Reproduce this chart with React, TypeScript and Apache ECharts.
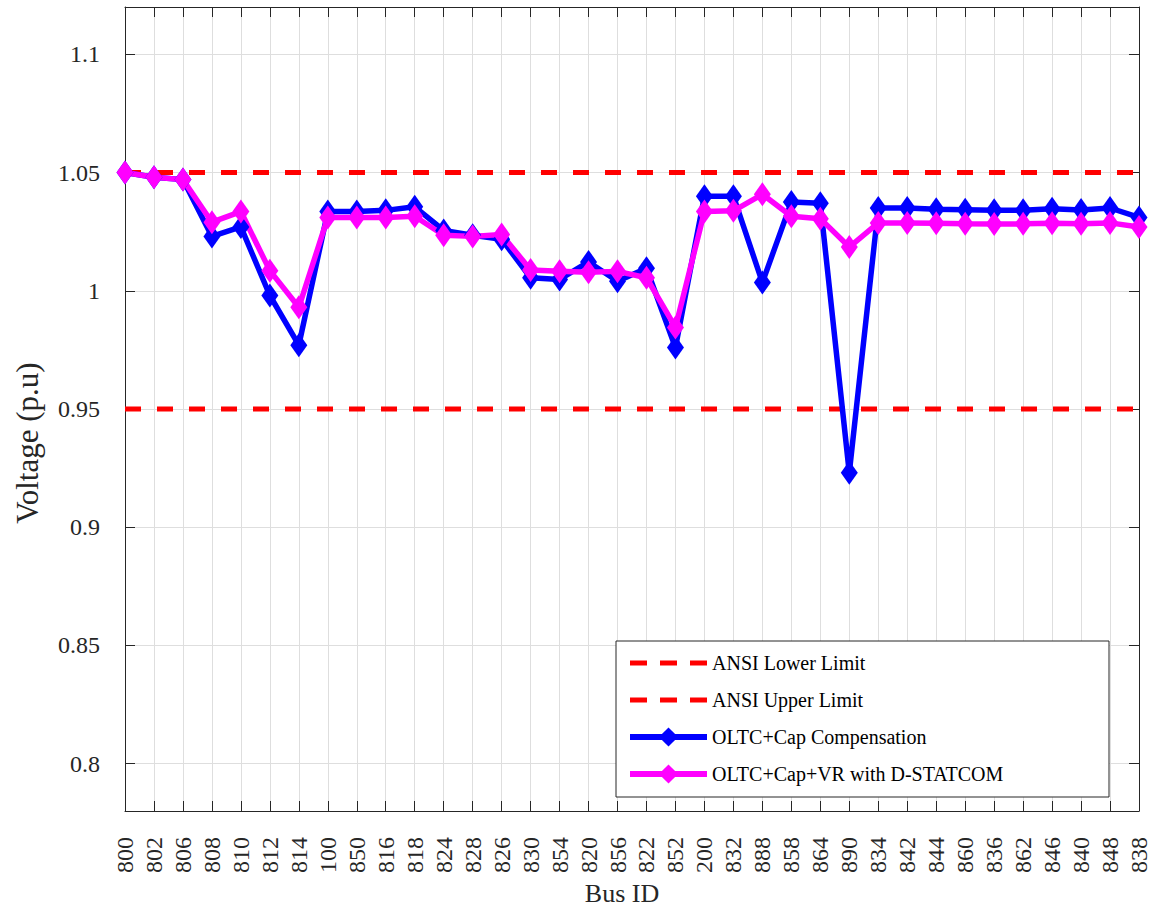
import React, { useEffect, useRef } from "react";
import * as echarts from "echarts";

const busIds = ["800","802","806","808","810","812","814","100","850","816","818","824","828","826","830","854","820","856","822","852","200","832","888","858","864","890","834","842","844","860","836","862","846","840","848","838"];

const oltcCap = [1.050,1.048,1.047,1.023,1.027,0.998,0.977,1.0335,1.0335,1.034,1.0355,1.0255,1.0235,1.0218,1.0055,1.0048,1.0122,1.004,1.0095,0.976,1.040,1.040,1.0035,1.0375,1.037,0.923,1.035,1.035,1.0345,1.0343,1.034,1.034,1.0347,1.0342,1.035,1.031];

const oltcCapVr = [1.050,1.048,1.047,1.029,1.0335,1.0085,0.993,1.031,1.031,1.031,1.0315,1.0235,1.023,1.0238,1.0088,1.0083,1.0078,1.0082,1.0055,0.9845,1.0335,1.0338,1.0408,1.0315,1.0305,1.0185,1.0287,1.0287,1.0285,1.0283,1.0282,1.0283,1.0285,1.0283,1.0287,1.027];

const lowerLimit = [["800", 0.95], ["838", 0.95]];
const upperLimit = [["800", 1.05], ["838", 1.05]];

const yTicks = [0.8, 0.85, 0.9, 0.95, 1.0, 1.05, 1.1];

const FONT = "'Liberation Serif', 'Times New Roman', serif";
const TXT = "#262626";

export default function App() {
  const ref = useRef<HTMLDivElement>(null);
  useEffect(() => {
    const chart = echarts.init(ref.current!, null, { renderer: "svg" });
    const fmt = (v: number) => String(parseFloat(v.toFixed(2)));
    chart.setOption({
      animation: false,
      backgroundColor: "#ffffff",
      textStyle: { fontFamily: FONT },
      grid: { left: 125, right: 1, top: 7, bottom: 97, containLabel: false },
      xAxis: [
        {
          type: "category",
          data: busIds,
          boundaryGap: false,
          position: "bottom",
          axisLine: { show: true, lineStyle: { color: TXT, width: 1 } },
          axisTick: { show: true, inside: true, length: 10, lineStyle: { color: TXT } },
          axisLabel: { rotate: 90, fontSize: 24, fontFamily: FONT, color: TXT, margin: 26, interval: 0 },
          splitLine: { show: true, interval: 0, lineStyle: { color: "#dedede", width: 1 } },
        },
        {
          type: "category",
          data: busIds,
          boundaryGap: false,
          position: "top",
          axisLine: { show: true, lineStyle: { color: TXT, width: 1 } },
          axisTick: { show: true, inside: true, length: 10, interval: 0, lineStyle: { color: TXT } },
          axisLabel: { show: false },
          splitLine: { show: false },
        },
      ],
      yAxis: [
        {
          type: "value",
          min: 0.78,
          max: 1.12,
          position: "left",
          axisLine: { show: true, lineStyle: { color: TXT, width: 1 } },
          axisTick: { show: true, inside: true, length: 10, customValues: yTicks, lineStyle: { color: TXT } },
          axisLabel: { customValues: yTicks, formatter: fmt, fontSize: 24, fontFamily: FONT, color: TXT, margin: 25 },
          splitLine: { show: true, lineStyle: { color: "#dedede", width: 1 } },
        },
        {
          type: "value",
          min: 0.78,
          max: 1.12,
          position: "right",
          axisLine: { show: true, lineStyle: { color: TXT, width: 1 } },
          axisTick: { show: true, inside: true, length: 10, customValues: yTicks, lineStyle: { color: TXT } },
          axisLabel: { show: false },
          splitLine: { show: false },
        },
      ],
      legend: {
        orient: "vertical",
        left: 622,
        top: 646,
        itemWidth: 77,
        itemHeight: 24,
        itemGap: 13,
        z: 10,
        lineStyle: { width: 5 },
        textStyle: { fontSize: 20, fontFamily: FONT, color: "#000", height: 24, lineHeight: 24 },
        data: [
          { name: "ANSI Lower Limit", itemStyle: { opacity: 0 }, lineStyle: { width: 5, type: [17, 13] } },
          { name: "ANSI Upper Limit", itemStyle: { opacity: 0 }, lineStyle: { width: 5, type: [17, 13] } },
          { name: "OLTC+Cap Compensation", lineStyle: { width: 6 } },
          { name: "OLTC+Cap+VR with D-STATCOM", lineStyle: { width: 6 } },
        ],
      },
      graphic: [
        {
          type: "rect",
          z: 3,
          shape: { x: 616, y: 641, width: 493, height: 156 },
          style: { fill: "#ffffff", stroke: TXT, lineWidth: 1 },
        },
        {
          type: "text",
          x: 27,
          y: 443,
          rotation: Math.PI / 2,
          style: { text: "Voltage (p.u)", font: `31px ${FONT}`, fill: TXT, align: "center", verticalAlign: "middle" },
        },
        {
          type: "text",
          x: 622,
          y: 893,
          style: { text: "Bus ID", font: `26px ${FONT}`, fill: TXT, align: "center", verticalAlign: "middle" },
        },
      ],
      series: [
        {
          name: "ANSI Lower Limit",
          type: "line",
          data: lowerLimit,
          symbol: "none",
          lineStyle: { color: "#ff0000", width: 5, type: [16, 16] },
          itemStyle: { color: "#ff0000" },
          z: 1,
        },
        {
          name: "ANSI Upper Limit",
          type: "line",
          data: upperLimit,
          symbol: "none",
          lineStyle: { color: "#ff0000", width: 5, type: [16, 16] },
          itemStyle: { color: "#ff0000" },
          z: 1,
        },
        {
          name: "OLTC+Cap Compensation",
          type: "line",
          data: oltcCap,
          symbol: "diamond",
          symbolSize: [17, 24],
          lineStyle: { color: "#0000ff", width: 5.5 },
          itemStyle: { color: "#0000ff" },
          z: 2,
        },
        {
          name: "OLTC+Cap+VR with D-STATCOM",
          type: "line",
          data: oltcCapVr,
          symbol: "diamond",
          symbolSize: [17, 24],
          lineStyle: { color: "#ff00ff", width: 5.5 },
          itemStyle: { color: "#ff00ff" },
          z: 2,
        },
      ],
    });
    return () => chart.dispose();
  }, []);
  return (
    <div
      ref={ref}
      style={{ position: "fixed", left: 0, top: 0, width: 1151, height: 908, background: "#fff" }}
    />
  );
}
